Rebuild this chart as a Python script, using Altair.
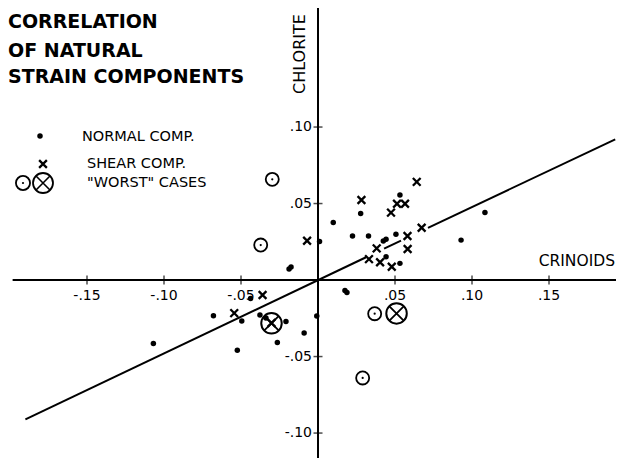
import altair as alt
import pandas as pd

# ---- data ----
normal_x = [0.0532, 0.0277, 0.0099, 0.0224, 0.0328, 0.0506, 0.0424, 0.0442, 0.0442, 0.0532,
            0.0010, -0.0188, -0.0175, 0.0175, 0.0188, -0.0438, -0.0679, -0.0495, -0.0377, -0.0338,
            -0.0208, -0.0008, -0.0090, -0.0264, -0.0524, -0.1069, 0.1084, 0.0929]
normal_y = [0.0556, 0.0435, 0.0376, 0.0288, 0.0288, 0.0299, 0.0255, 0.0266, 0.0152, 0.0109,
            0.0252, 0.0072, 0.0085, -0.0069, -0.0082, -0.0121, -0.0233, -0.0267, -0.0229, -0.0248,
            -0.0271, -0.0235, -0.0346, -0.0408, -0.0459, -0.0414, 0.0442, 0.0261]
shear_x = [0.0641, 0.0282, 0.0513, 0.0565, 0.0474, 0.0581, 0.0673, 0.0381, 0.0582, 0.0331,
           0.0403, 0.0479, -0.0071, -0.0360, -0.0544, -0.0302]
shear_y = [0.0642, 0.0523, 0.0499, 0.0499, 0.0441, 0.0288, 0.0342, 0.0207, 0.0203, 0.0137,
           0.0116, 0.0087, 0.0257, -0.0098, -0.0216, -0.0281]
worst_dot_x = [-0.0297, -0.0372, 0.0368, 0.0290]
worst_dot_y = [0.0658, 0.0229, -0.0220, -0.0640]
worst_cross_x = [-0.0302, 0.0510]
worst_cross_y = [-0.0283, -0.0218]
# regression line, drawn in pieces (the original is interrupted around the symbols)
line_seg = [0, 0, 1, 1, 2, 2]
line_x = [-0.190, 0.0312, 0.0429, 0.0539, 0.0714, 0.193]
line_y = [-0.091, 0.0149, 0.0205, 0.0258, 0.0341, 0.092]
xtick_vals = [-0.15, -0.10, -0.05, 0.05, 0.10, 0.15]
xtick_labels = ["-.15", "-.10", "-.05", ".05", ".10", ".15"]
ytick_vals = [0.10, 0.05, -0.05, -0.10]
ytick_labels = [".10", ".05", "-.05", "-.10"]
title_lines = ["CORRELATION", "OF NATURAL", "STRAIN COMPONENTS"]
legend_labels = ["NORMAL COMP.", "SHEAR COMP.", "\"WORST\" CASES"]

W, H = 608, 450
X_DOM = [-0.2013, 0.1935]
Y_DOM = [-0.1163, 0.1778]
xs = alt.Scale(domain=X_DOM, nice=False, zero=False)
ys = alt.Scale(domain=Y_DOM, nice=False, zero=False)
FONT = "DejaVu Sans"
XPATH = "M-1,-1L1,1M-1,1L1,-1"
XPATH_IN = "M-0.72,-0.72L0.72,0.72M-0.72,0.72L0.72,-0.72"


def X(f="x"):
    return alt.X(f, type="quantitative", scale=xs, axis=None)


def Y(f="y"):
    return alt.Y(f, type="quantitative", scale=ys, axis=None)


normal = pd.DataFrame({"x": normal_x, "y": normal_y})
shear = pd.DataFrame({"x": shear_x, "y": shear_y})
wdot = pd.DataFrame({"x": worst_dot_x, "y": worst_dot_y})
wcross = pd.DataFrame({"x": worst_cross_x, "y": worst_cross_y})
reg = pd.DataFrame({"x": line_x, "y": line_y, "seg": line_seg})
xt = pd.DataFrame({"x": xtick_vals, "y": [0] * len(xtick_vals), "t": xtick_labels})
yt = pd.DataFrame({"x": [0] * len(ytick_vals), "y": ytick_vals, "t": ytick_labels})

layers = []
# axes lines
layers.append(alt.Chart(pd.DataFrame({"x": [X_DOM[0] + 0.003], "x2": [X_DOM[1]], "y": [0]}))
              .mark_rule(color="black", strokeWidth=2)
              .encode(x=X("x"), x2="x2", y=Y("y")))
layers.append(alt.Chart(pd.DataFrame({"x": [0], "y": [Y_DOM[0]], "y2": [Y_DOM[1]]}))
              .mark_rule(color="black", strokeWidth=2)
              .encode(x=X("x"), y=Y("y"), y2="y2"))
# ticks
layers.append(alt.Chart(xt).mark_tick(orient="vertical", size=9, thickness=1.5, color="black")
              .encode(x=X("x"), y=Y("y")))
layers.append(alt.Chart(yt).mark_tick(orient="horizontal", size=9, thickness=1.5, color="black")
              .encode(x=X("x"), y=Y("y")))
# tick labels
layers.append(alt.Chart(xt).mark_text(dy=16, fontSize=14, font=FONT, color="black")
              .encode(x=X("x"), y=Y("y"), text="t"))
layers.append(alt.Chart(yt).mark_text(dx=-6, align="right", baseline="middle", fontSize=14,
                                      font=FONT, color="black")
              .encode(x=X("x"), y=Y("y"), text="t"))
# regression line
layers.append(alt.Chart(reg).mark_line(color="black", strokeWidth=2)
              .encode(x=X("x"), y=Y("y"), detail="seg:N"))
# points
layers.append(alt.Chart(normal).mark_circle(size=30, color="black", opacity=1)
              .encode(x=X("x"), y=Y("y")))
layers.append(alt.Chart(shear).mark_point(shape=XPATH, size=60, filled=False, strokeWidth=2.3,
                                          color="black", opacity=1)
              .encode(x=X("x"), y=Y("y")))
layers.append(alt.Chart(wdot).mark_point(shape="circle", size=170, filled=False, strokeWidth=1.8,
                                         color="black", opacity=1)
              .encode(x=X("x"), y=Y("y")))
layers.append(alt.Chart(wdot).mark_circle(size=5, color="black", opacity=1)
              .encode(x=X("x"), y=Y("y")))
layers.append(alt.Chart(wcross).mark_point(shape="circle", size=420, filled=False, strokeWidth=2,
                                           color="black", opacity=1)
              .encode(x=X("x"), y=Y("y")))
layers.append(alt.Chart(wcross).mark_point(shape=XPATH_IN, size=420, filled=False, strokeWidth=1.8,
                                           color="black", opacity=1)
              .encode(x=X("x"), y=Y("y")))

# title
for i, (t, yy) in enumerate(zip(title_lines, [20, 49, 75])):
    layers.append(alt.Chart(pd.DataFrame({"t": [t]}))
                  .mark_text(align="left", baseline="alphabetic", font=FONT, fontWeight="bold",
                             fontSize=19, color="black")
                  .encode(x=alt.value(0), y=alt.value(yy), text="t"))

# axis names
layers.append(alt.Chart(pd.DataFrame({"t": ["CHLORITE"]}))
              .mark_text(angle=270, align="center", baseline="middle", font=FONT, fontSize=16,
                         color="black")
              .encode(x=alt.value(292), y=alt.value(46), text="t"))
layers.append(alt.Chart(pd.DataFrame({"t": ["CRINOIDS"]}))
              .mark_text(align="right", baseline="middle", font=FONT, fontSize=15.5, color="black")
              .encode(x=alt.value(607), y=alt.value(253), text="t"))

# legend
for t, yy, xx in zip(legend_labels, [129, 156, 175], [74, 79, 79]):
    layers.append(alt.Chart(pd.DataFrame({"t": [t]}))
                  .mark_text(align="left", baseline="middle", font=FONT, fontSize=14.5,
                             color="black")
                  .encode(x=alt.value(xx), y=alt.value(yy), text="t"))
one = pd.DataFrame({"k": [1]})
layers.append(alt.Chart(one).mark_circle(size=30, color="black", opacity=1)
              .encode(x=alt.value(32), y=alt.value(128)))
layers.append(alt.Chart(one).mark_point(shape=XPATH, size=60, filled=False, strokeWidth=2.3,
                                        color="black", opacity=1)
              .encode(x=alt.value(35), y=alt.value(156)))
layers.append(alt.Chart(one).mark_point(shape="circle", size=200, filled=False, strokeWidth=1.8,
                                        color="black", opacity=1)
              .encode(x=alt.value(15), y=alt.value(175)))
layers.append(alt.Chart(one).mark_circle(size=5, color="black", opacity=1)
              .encode(x=alt.value(15), y=alt.value(175)))
layers.append(alt.Chart(one).mark_point(shape="circle", size=400, filled=False, strokeWidth=1.8,
                                        color="black", opacity=1)
              .encode(x=alt.value(35), y=alt.value(175)))
layers.append(alt.Chart(one).mark_point(shape=XPATH_IN, size=400, filled=False, strokeWidth=1.6,
                                        color="black", opacity=1)
              .encode(x=alt.value(35), y=alt.value(175)))

chart = alt.layer(*layers).properties(
    width=W, height=H, padding=0, autosize=alt.AutoSizeParams(type="none"),
    background="white"
).configure_view(stroke=None)

chart.save("out.html", embed_options={"renderer": "svg", "actions": False})
